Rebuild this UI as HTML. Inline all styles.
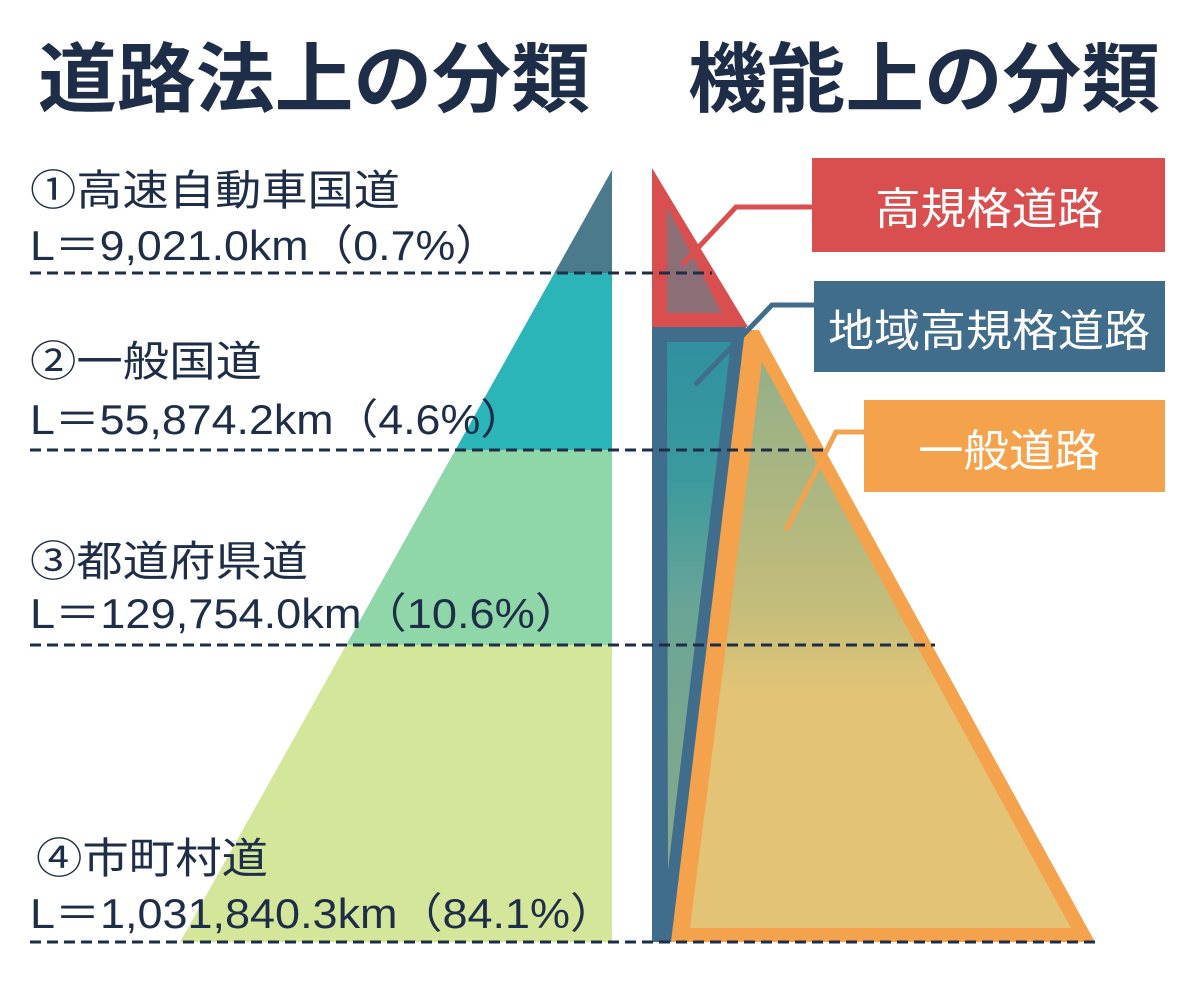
<!DOCTYPE html>
<html><head><meta charset="utf-8"><style>
body{margin:0;width:1200px;height:1000px;background:#fff;overflow:hidden}
svg text{font-family:"Liberation Sans","Noto Sans CJK JP",sans-serif;fill:#1e2d48}
</style></head><body>
<svg width="1200" height="1000" viewBox="0 0 1200 1000">
<defs>
<linearGradient id="og" x1="0" y1="340" x2="0" y2="930" gradientUnits="userSpaceOnUse">
<stop offset="0" stop-color="#8fae8a"/><stop offset="0.45" stop-color="#c3bd7a"/><stop offset="0.6" stop-color="#e3c476"/><stop offset="1" stop-color="#e3c476"/></linearGradient>
<linearGradient id="bg" x1="0" y1="340" x2="0" y2="880" gradientUnits="userSpaceOnUse">
<stop offset="0" stop-color="#3090a0"/><stop offset="0.25" stop-color="#3a9a9e"/><stop offset="0.5" stop-color="#6aa596"/><stop offset="1" stop-color="#88aa88"/></linearGradient>
<clipPath id="lp"><polygon points="612,170 612,942 180,942"/></clipPath>
</defs>
<text x="38" y="106" font-size="76" font-weight="bold" textLength="552" lengthAdjust="spacingAndGlyphs">道路法上の分類</text>
<text x="688" y="106" font-size="76" font-weight="bold" textLength="472" lengthAdjust="spacingAndGlyphs">機能上の分類</text>
<g clip-path="url(#lp)">
<rect x="150" y="160" width="470" height="113" fill="#4a7a8c"/>
<rect x="150" y="273" width="470" height="177" fill="#2bb5b8"/>
<rect x="150" y="450" width="470" height="195" fill="#8fd6a8"/>
<rect x="150" y="645" width="470" height="300" fill="#d4e69a"/>
</g>
<polygon points="652,168 748,327 652,327" fill="#d94f4f"/>
<polygon points="667,207 722,313 667,313" fill="#8c6e76"/>
<polygon points="652,327 746,327 672,942 652,942" fill="#416d8c"/>
<polygon points="667,342 731,342 668,870" fill="url(#bg)"/>
<polygon points="745,330 759,330 1095,942 671,942" fill="#f4a24b"/>
<polygon points="762,362 1071,928 690,928" fill="url(#og)"/>
<polyline points="682,265 736,207 812,207" fill="none" stroke="#d94f4f" stroke-width="5"/>
<polyline points="695,385 772,305 814,305" fill="none" stroke="#416d8c" stroke-width="5"/>
<polyline points="786,530 836,432 864,432" fill="none" stroke="#f4a24b" stroke-width="5"/>
<rect x="812" y="158" width="353" height="94" fill="#d94f4f"/>
<rect x="814" y="281" width="351" height="91" fill="#416d8c"/>
<rect x="864" y="400" width="301" height="92" fill="#f4a24b"/>
<text x="875" y="224" font-size="44" textLength="228" lengthAdjust="spacingAndGlyphs" style="fill:#fff">高規格道路</text>
<text x="828" y="346" font-size="44" textLength="322" lengthAdjust="spacingAndGlyphs" style="fill:#fff">地域高規格道路</text>
<text x="918" y="466" font-size="44" textLength="182" lengthAdjust="spacingAndGlyphs" style="fill:#fff">一般道路</text>
<g stroke="#1e2d48" stroke-width="3" stroke-dasharray="11,6">
<line x1="30" y1="273" x2="712" y2="273"/>
<line x1="30" y1="450" x2="828" y2="450"/>
<line x1="30" y1="645" x2="935" y2="645"/>
<line x1="30" y1="942" x2="1100" y2="942"/>
</g>
<g font-size="42">
<text x="30" y="205" textLength="370" lengthAdjust="spacingAndGlyphs">①高速自動車国道</text>
<text x="30" y="260" textLength="470" lengthAdjust="spacingAndGlyphs">L＝9,021.0km（0.7%）</text>
<text x="30" y="376" textLength="232" lengthAdjust="spacingAndGlyphs">②一般国道</text>
<text x="30" y="434" textLength="495" lengthAdjust="spacingAndGlyphs">L＝55,874.2km（4.6%）</text>
<text x="30" y="576" textLength="278" lengthAdjust="spacingAndGlyphs">③都道府県道</text>
<text x="30" y="628" textLength="550" lengthAdjust="spacingAndGlyphs">L＝129,754.0km（10.6%）</text>
<text x="36" y="873" textLength="232" lengthAdjust="spacingAndGlyphs">④市町村道</text>
<text x="30" y="928" textLength="585" lengthAdjust="spacingAndGlyphs">L＝1,031,840.3km（84.1%）</text>
</g>
</svg>
</body></html>
